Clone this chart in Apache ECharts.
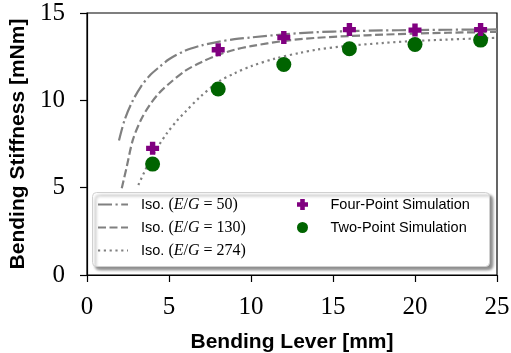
<!DOCTYPE html>
<html><head><meta charset="utf-8">
<script src="https://cdn.jsdelivr.net/npm/echarts@6/dist/echarts.min.js"></script>
<style>html,body{margin:0;padding:0;background:#fff}#c{width:511px;height:353px}</style>
</head><body><div id="c"></div>
<script>
const xTicks = [0, 5, 10, 15, 20, 25];
const yTicks = [0, 5, 10, 15];

const simLever = [4, 8, 12, 16, 20, 24];
const fourPoint = [7.25, 12.9, 13.6, 14.05, 14.02, 14.05];
const twoPoint = [6.35, 10.65, 12.05, 12.95, 13.2, 13.45];

const xIso50 = [1.95, 2.3, 2.8, 3.3, 3.8, 4.4, 5, 6, 7, 8, 9, 10, 12, 14, 16, 18, 20, 22, 24, 25];
const yIso50 = [7.7, 8.9, 10.0, 10.8, 11.4, 11.9, 12.35, 12.85, 13.15, 13.35, 13.5, 13.6, 13.78, 13.9, 13.96, 14.0, 14.02, 14.04, 14.05, 14.06];
const xIso130 = [2.12, 2.4, 2.8, 3.3, 3.8, 4.4, 5, 6, 7, 8, 9, 10, 12, 14, 16, 18, 20, 22, 24, 25];
const yIso130 = [4.96, 6.1, 7.75, 8.9, 9.7, 10.42, 10.95, 11.7, 12.2, 12.6, 12.9, 13.1, 13.4, 13.58, 13.68, 13.76, 13.82, 13.87, 13.9, 13.92];
const xIso274 = [3.13, 3.5, 3.84, 4.4, 4.86, 5.5, 6, 6.9, 8, 9, 10, 11.5, 13, 14, 15.5, 18, 20, 22, 25];
const yIso274 = [5.15, 5.9, 6.55, 7.45, 8.1, 8.85, 9.35, 10.2, 11.05, 11.55, 11.95, 12.4, 12.72, 12.9, 13.08, 13.28, 13.4, 13.48, 13.58];

const isoNames = ['Iso. (E/G = 50)', 'Iso. (E/G = 130)', 'Iso. (E/G = 274)'];
const isoRatios = ['50', '130', '274'];
const simNames = ['Four-Point Simulation', 'Two-Point Simulation'];

const zip = (xs, ys) => xs.map((x, i) => [x, ys[i]]);
const plusPath = 'path://M3.5,0H8.5V3.5H12V8.5H8.5V12H3.5V8.5H0V3.5H3.5Z';
const gray = '#808080';
const serif = 'Liberation Serif';
const sans = 'Liberation Sans';

const chart = echarts.init(document.getElementById('c'), null, {renderer: 'canvas'});
const lineSeries = (name, data, dash) => ({
  name, type: 'line', data, smooth: 0.3, symbol: 'none', showSymbol: false,
  lineStyle: {color: gray, width: 2.2, type: dash, cap: 'butt'},
  itemStyle: {color: gray}, z: 2, animation: false
});

chart.setOption({
  animation: false,
  grid: {left: 87, right: 14, top: 13, bottom: 78, show: true, borderColor: '#000', borderWidth: 1.2,
    backgroundColor: 'transparent', containLabel: false, outerBoundsMode: 'none'},
  xAxis: {
    type: 'value', min: 0, max: 25, interval: 5,
    name: 'Bending Lever [mm]', nameLocation: 'middle', nameGap: 57,
    nameTextStyle: {fontFamily: sans, fontWeight: 'bold', fontSize: 21, color: '#000'},
    axisLine: {show: true, lineStyle: {color: '#000', width: 1.2}},
    axisTick: {show: true, inside: false, length: 7, lineStyle: {color: '#000', width: 1.2}},
    axisLabel: {fontFamily: serif, fontSize: 25, color: '#000', margin: 20,
      formatter: v => xTicks.includes(v) ? String(v) : ''},
    splitLine: {show: false}
  },
  yAxis: {
    type: 'value', min: 0, max: 15, interval: 5,
    name: 'Bending Stiffness [mNm]', nameLocation: 'middle', nameGap: 58, nameRotate: 90,
    nameTextStyle: {fontFamily: sans, fontWeight: 'bold', fontSize: 21, color: '#000'},
    axisLine: {show: true, lineStyle: {color: '#000', width: 1.2}},
    axisTick: {show: true, inside: false, length: 7, lineStyle: {color: '#000', width: 1.2}},
    axisLabel: {fontFamily: serif, fontSize: 25, color: '#000', margin: 22,
      formatter: v => yTicks.includes(v) ? String(v) : ''},
    splitLine: {show: false}
  },
  graphic: [{
    type: 'rect', z: 50, left: 92, top: 192,
    shape: {width: 397, height: 74, r: 4},
    style: {fill: '#fff', stroke: '#d0d0d0', lineWidth: 1,
      shadowBlur: 3, shadowOffsetX: 3, shadowOffsetY: 3, shadowColor: 'rgba(0,0,0,0.45)'}
  }],
  legend: [{
    z: 60, left: 97, top: 196, orient: 'vertical', itemWidth: 30, itemHeight: 17, itemGap: 6,
    padding: 0, data: isoNames,
    itemStyle: {color: 'rgba(0,0,0,0)', borderColor: 'rgba(0,0,0,0)', borderWidth: 0},
    formatter: name => {
      const r = isoRatios[isoNames.indexOf(name)];
      return '{a|Iso. }{b|(}{c|E}{b|/}{c|G}{b| = ' + r + ')}';
    },
    textStyle: {padding: [0, 0, 0, 8], color: '#000', lineHeight: 17,
      rich: {
        a: {fontFamily: sans, fontSize: 14.5, color: '#000', lineHeight: 17},
        b: {fontFamily: serif, fontSize: 16, color: '#000', lineHeight: 17},
        c: {fontFamily: serif, fontSize: 16, fontStyle: 'italic', color: '#000', lineHeight: 17}
      }}
  }, {
    z: 60, left: 297, top: 196, orient: 'vertical', itemWidth: 16, itemHeight: 11, itemGap: 6,
    padding: 0,
    data: [
      {name: simNames[0], icon: plusPath, itemStyle: {color: '#800080'}},
      {name: simNames[1], icon: 'circle', itemStyle: {color: '#006400'}}
    ],
    textStyle: {fontFamily: sans, fontSize: 14.5, lineHeight: 17, color: '#000', padding: [0, 0, 0, 15]}
  }],
  series: [
    lineSeries(isoNames[0], zip(xIso50, yIso50), [14, 3.5, 2.2, 3.5]),
    lineSeries(isoNames[1], zip(xIso130, yIso130), [8, 3.5]),
    lineSeries(isoNames[2], zip(xIso274, yIso274), [2.2, 3.6]),
    {name: simNames[0], type: 'scatter', data: zip(simLever, fourPoint), symbol: plusPath, symbolSize: 13,
      itemStyle: {color: '#800080', opacity: 1}, z: 4},
    {name: simNames[1], type: 'scatter', data: zip(simLever, twoPoint), symbol: 'circle', symbolSize: 15,
      itemStyle: {color: '#006400', opacity: 1}, z: 3}
  ]
});
</script></body></html>
